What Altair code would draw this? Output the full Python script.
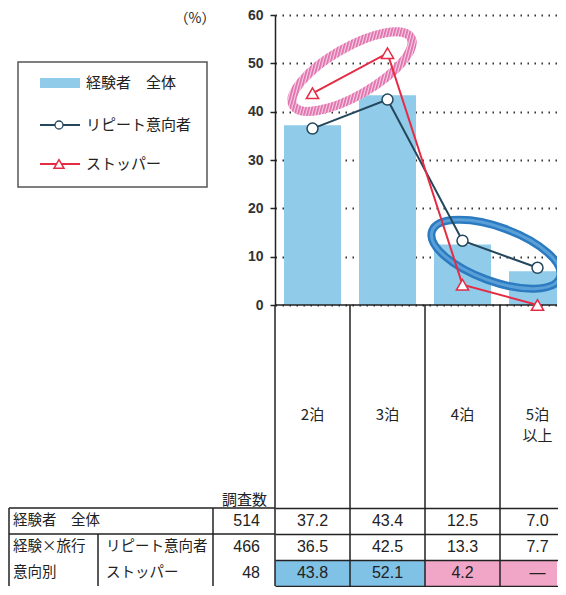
from urllib.parse import quote
import altair as alt
import pandas as pd

# ---------------- data ----------------
categories = ["2泊", "3泊", "4泊", "5泊以上"]
category_labels = ["2泊", "3泊", "4泊", "5泊\n以上"]
overall = [37.2, 43.4, 12.5, 7.0]
repeat = [36.5, 42.5, 13.3, 7.7]
stopper = [43.8, 52.1, 4.2, 0.0]
stopper_highlight = ["高", "高", "低", "低"]
series_names = ["経験者　全体", "リピート意向者", "ストッパー"]
row_keys = ["r1", "r2", "r3"]
row_group_labels = ["経験者　全体", "経験×旅行", "意向別"]
row_sub_labels = ["", "リピート意向者", "ストッパー"]
sample_sizes = [514, 466, 48]
y_ticks = [0, 10, 20, 30, 40, 50, 60]
unit_label = "（%）"
n_header = "調査数"

# ---------------- styles ----------------
JP = "Noto Sans CJK JP"
NUM = "'Liberation Sans Narrow', 'Arial Narrow', 'Liberation Sans', sans-serif"
INK = "#222222"
BAR = "#90cbe9"
REP = "#24475c"
STP = "#e62b45"
HL_BLUE = "#80c1e6"
HL_PINK = "#f2a6c7"

W, H = 282, 290          # visible plot width (4th column is cut by the page edge)
FULL = 300               # full width of the four category columns
LH, TH = 203, 78

df = pd.DataFrame({
    "cat": categories,
    "label": category_labels,
    "overall": overall,
    "repeat": repeat,
    "stopper": stopper,
})
one = pd.DataFrame({"k": [0]})

xscale = alt.Scale(domain=categories, range=[0, FULL], paddingInner=0, paddingOuter=0)
yscale = alt.Scale(domain=[0, 60], nice=False)

# ---------------- main plot ----------------
x_main = alt.X("cat:N", scale=xscale, axis=None)
y_main = alt.Y("overall:Q", scale=yscale,
               axis=alt.Axis(values=y_ticks, title=None, grid=True, gridColor="#333333",
                             gridDash=[1.5, 5.5], gridWidth=2,
                             labelFont="Liberation Sans", labelFontSize=14,
                             labelFontWeight="bold", labelColor="#333333",
                             labelPadding=7, tickSize=5, tickColor=INK, tickWidth=1.5,
                             domainColor=INK, domainWidth=1.5))

bars = alt.Chart(df).mark_bar(width=alt.RelativeBandSize(0.76), color=BAR, clip=True).encode(
    x=x_main, y=y_main)
baseline = alt.Chart(one).mark_rule(color=INK, strokeWidth=1.5).encode(
    x=alt.value(0), x2=alt.value(W), y=alt.datum(0))


def ring_image(a, b, rot, w, h, body, defs=""):
    svg = (f"<svg xmlns='http://www.w3.org/2000/svg' width='{w}' height='{h}' "
           f"viewBox='{-w / 2} {-h / 2} {w} {h}'><defs>{defs}</defs>"
           f"<g transform='rotate({rot})'>{body.format(a=a, b=b)}</g></svg>")
    return "data:image/svg+xml;charset=utf-8," + quote(svg)


pink_defs = ("<pattern id='p' width='3' height='3' patternUnits='userSpaceOnUse' "
             "patternTransform='rotate(45)'><rect width='1.8' height='3' fill='#df6fac'/></pattern>")
pink_body = ("<ellipse rx='{a}' ry='{b}' fill='none' stroke='#f9d2e6' stroke-width='9'/>"
             "<ellipse rx='{a}' ry='{b}' fill='none' stroke='url(#p)' stroke-width='9'/>")
blue_body = ("<ellipse rx='{a}' ry='{b}' fill='none' stroke='#2c7bc0' stroke-width='8'/>"
             "<ellipse rx='{a}' ry='{b}' fill='none' stroke='#5aa0d8' stroke-width='3'/>")

pink_uri = ring_image(68, 24, -30, 130, 92, pink_body, pink_defs)
blue_uri = ring_image(68, 27, 20, 138, 78, blue_body)

pink_ring = alt.Chart(one).mark_image(width=130, height=92, align="center", baseline="middle",
                                      aspect=False).encode(
    x=alt.value(77), y=alt.datum(48.3), url=alt.value(pink_uri))
blue_ring = alt.Chart(one).mark_image(width=138, height=78, align="center", baseline="middle",
                                      aspect=False, clip=True).encode(
    x=alt.value(221), y=alt.datum(10.5), url=alt.value(blue_uri))

rep_line = alt.Chart(df).mark_line(color=REP, strokeWidth=2).encode(
    x="cat:N", y=alt.Y("repeat:Q", title=None))
rep_pts = alt.Chart(df).mark_point(shape="circle", size=121, filled=True, fill="white",
                                   stroke=REP, strokeWidth=1.5, opacity=1).encode(
    x="cat:N", y=alt.Y("repeat:Q", title=None))
stp_line = alt.Chart(df).mark_line(color=STP, strokeWidth=2).encode(
    x="cat:N", y=alt.Y("stopper:Q", title=None))
stp_pts = alt.Chart(df).mark_point(shape="triangle-up", size=150, filled=True, fill="white",
                                   stroke=STP, strokeWidth=1.5, opacity=1).encode(
    x="cat:N", y=alt.Y("stopper:Q", title=None))

# legend (decoration)
lg_box = alt.Chart(one).mark_rect(fillOpacity=0, stroke="#555555", strokeWidth=1.5).encode(
    x=alt.value(-257), x2=alt.value(-68), y=alt.value(47), y2=alt.value(172))
lg_bar = alt.Chart(one).mark_rect(color=BAR).encode(
    x=alt.value(-235), x2=alt.value(-195), y=alt.value(63), y2=alt.value(73))
lg_rep = alt.Chart(one).mark_rule(color=REP, strokeWidth=2).encode(
    x=alt.value(-235), x2=alt.value(-195), y=alt.value(110))
lg_rep_pt = alt.Chart(one).mark_point(shape="circle", size=64, filled=True, fill="white",
                                      stroke=REP, strokeWidth=1.3, opacity=1).encode(
    x=alt.value(-216), y=alt.value(110))
lg_stp = alt.Chart(one).mark_rule(color=STP, strokeWidth=2).encode(
    x=alt.value(-235), x2=alt.value(-195), y=alt.value(149))
lg_stp_pt = alt.Chart(one).mark_point(shape="triangle-up", size=100, filled=True, fill="white",
                                      stroke=STP, strokeWidth=1.5, opacity=1).encode(
    x=alt.value(-216), y=alt.value(149))
lg_texts = [
    alt.Chart(one).mark_text(font=JP, fontSize=15, align="left", baseline="middle",
                             color=INK).encode(
        x=alt.value(-189), y=alt.value(yy), text=alt.value(name))
    for name, yy in zip(series_names, [68, 110, 149])
]
unit_txt = alt.Chart(one).mark_text(font=JP, fontSize=14, align="center", baseline="middle",
                                    color=INK).encode(
    x=alt.value(-80), y=alt.value(4), text=alt.value(unit_label))

main = alt.layer(
    bars, baseline, pink_ring, blue_ring, rep_line, stp_line, rep_pts, stp_pts,
    lg_box, lg_bar, lg_rep, lg_rep_pt, lg_stp, lg_stp_pt, *lg_texts, unit_txt
).properties(width=W, height=H)

# ---------------- category label band ----------------
x_plain = alt.X("cat:N", scale=xscale, axis=None)
band_lines = alt.Chart(df).mark_rule(color=INK, strokeWidth=1.5).encode(
    x=alt.X("cat:N", scale=xscale, axis=None, bandPosition=0),
    y=alt.value(0), y2=alt.value(LH))
cat_txt = alt.Chart(df).mark_text(font=JP, fontSize=15, lineBreak="\n", lineHeight=21,
                                  color=INK, baseline="middle").encode(
    x=x_plain, y=alt.value(110), text="label:N")
n_hdr = alt.Chart(one).mark_text(font=JP, fontSize=15, align="right", baseline="middle",
                                 color=INK).encode(
    x=alt.value(-8), y=alt.value(LH - 8), text=alt.value(n_header))
band = alt.layer(band_lines, cat_txt, n_hdr).properties(width=W, height=LH)

# ---------------- table ----------------
cells = []
for i, c in enumerate(categories):
    cells.append({"cat": c, "row": "r1", "txt": f"{overall[i]:.1f}"})
    cells.append({"cat": c, "row": "r2", "txt": f"{repeat[i]:.1f}"})
    cells.append({"cat": c, "row": "r3", "txt": f"{stopper[i]:.1f}" if stopper[i] > 0 else "—"})
cells_df = pd.DataFrame(cells)
hl_df = pd.DataFrame({"cat": categories, "row": ["r3"] * 4, "hl": stopper_highlight})
hdr_df = pd.DataFrame({"row": row_keys, "g": row_group_labels, "s": row_sub_labels,
                       "n": [str(v) for v in sample_sizes]})

y_rows = alt.Y("row:N", scale=alt.Scale(domain=row_keys, paddingInner=0, paddingOuter=0),
               axis=alt.Axis(tickBand="extent", grid=True, gridColor=INK, gridWidth=1.5,
                             labels=False, ticks=False, domain=False, title=None, zindex=1))

hl = alt.Chart(hl_df).mark_rect(clip=True).encode(
    x=x_plain, y=y_rows,
    color=alt.Color("hl:N", scale=alt.Scale(domain=["高", "低"], range=[HL_BLUE, HL_PINK]),
                    legend=None))
table_lines = alt.Chart(df).mark_rule(color=INK, strokeWidth=1.5).encode(
    x=alt.X("cat:N", scale=xscale, axis=None, bandPosition=0),
    y=alt.value(0), y2=alt.value(TH))
val_txt = alt.Chart(cells_df).mark_text(font=NUM, fontSize=16, color=INK,
                                        baseline="middle").encode(
    x="cat:N", y="row:N", text="txt:N")
g_txt = alt.Chart(hdr_df).mark_text(font=JP, fontSize=14.5, align="left", baseline="middle",
                                    color=INK).encode(
    x=alt.value(-262), y="row:N", text="g:N")
s_txt = alt.Chart(hdr_df).mark_text(font=JP, fontSize=14.5, align="left", baseline="middle",
                                    color=INK).encode(
    x=alt.value(-169), y="row:N", text="s:N")
n_txt = alt.Chart(hdr_df).mark_text(font=NUM, fontSize=16, align="right", baseline="middle",
                                    color=INK).encode(
    x=alt.value(-15), y="row:N", text="n:N")


def hrule(x1, x2, yy):
    return alt.Chart(one).mark_rule(color=INK, strokeWidth=1.5).encode(
        x=alt.value(x1), x2=alt.value(x2), y=alt.value(yy))


def vrule(xx, y1, y2):
    return alt.Chart(one).mark_rule(color=INK, strokeWidth=1.5).encode(
        x=alt.value(xx), y=alt.value(y1), y2=alt.value(y2))


borders = [
    hrule(-266, 0, 0),
    hrule(-266, 0, 26),
    vrule(-266, 0, TH),
    vrule(-177, 26, TH),
    vrule(-62, 0, TH),
]

table = alt.layer(hl, table_lines, val_txt, g_txt, s_txt, n_txt, *borders).properties(
    width=W, height=TH)

chart = alt.vconcat(main, band, table, spacing=0, bounds="flush").properties(
    padding=0).configure_view(strokeWidth=0)

chart.save("out.html", embed_options={"renderer": "svg", "actions": False})
